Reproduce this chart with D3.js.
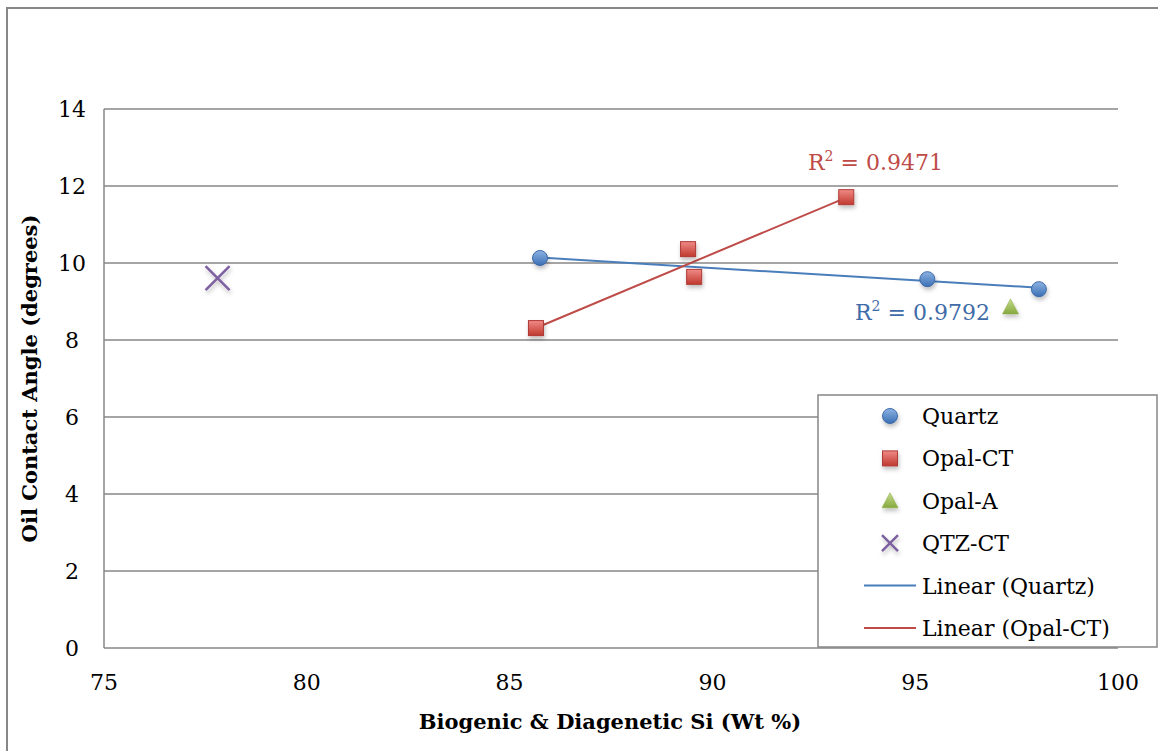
<!DOCTYPE html>
<html>
<head>
<meta charset="utf-8">
<script src="https://cdn.jsdelivr.net/npm/d3@7"></script>
<style>
  body { margin: 0; background: #fff; }
  svg { display: block; font-family: "DejaVu Serif", "Liberation Serif", serif; }
</style>
</head>
<body>
<div id="chart"></div>
<script>
// data
const quartzX = [85.75, 95.3, 98.05];
const quartzY = [10.13, 9.58, 9.32];
const opalCtX = [85.65, 89.4, 89.55, 93.3];
const opalCtY = [8.31, 10.36, 9.64, 11.71];
const opalAX = [97.35];
const opalAY = [8.86];
const qtzCtX = [77.8];
const qtzCtY = [9.61];
const xTicks = [75, 80, 85, 90, 95, 100];
const yTicks = [0, 2, 4, 6, 8, 10, 12, 14];
const legendNames = ["Quartz", "Opal-CT", "Opal-A", "QTZ-CT", "Linear (Quartz)", "Linear (Opal-CT)"];
const r2Labels = ["0.9792", "0.9471"];

const W = 1158, H = 751;
const margin = {top: 109, right: 40, bottom: 103, left: 104};
const width = W - margin.left - margin.right;
const height = H - margin.top - margin.bottom;

const svg = d3.select("#chart").append("svg")
    .attr("width", W)
    .attr("height", H);

const defs = svg.append("defs");
function grad(id, c1, c2) {
    const g = defs.append("linearGradient").attr("id", id)
        .attr("x1", 0).attr("y1", 0).attr("x2", 0).attr("y2", 1);
    g.append("stop").attr("offset", "0%").attr("stop-color", c1);
    g.append("stop").attr("offset", "100%").attr("stop-color", c2);
}
grad("gBlue", "#8db3e2", "#3a6fb5");
grad("gRed", "#f08a86", "#c0392f");
grad("gGreen", "#c3dc8a", "#86a83f");
const sh = defs.append("filter").attr("id", "shadow").attr("x", "-50%").attr("y", "-50%").attr("width", "200%").attr("height", "200%");
sh.append("feDropShadow").attr("dx", 1).attr("dy", 3).attr("stdDeviation", 2).attr("flood-color", "#000").attr("flood-opacity", 0.25);

// outer frame
svg.append("rect")
    .attr("x", 7).attr("y", 8)
    .attr("width", W + 10).attr("height", H + 10)
    .attr("fill", "none").attr("stroke", "#878787").attr("stroke-width", 2);

const g = svg.append("g").attr("transform", `translate(${margin.left},${margin.top})`);

const x = d3.scaleLinear().domain([75, 100]).range([0, width]);
const y = d3.scaleLinear().domain([0, 14]).range([height, 0]);

// gridlines
g.selectAll(".grid").data(yTicks).enter().append("line")
    .attr("x1", 0).attr("x2", width)
    .attr("y1", d => y(d)).attr("y2", d => y(d))
    .attr("stroke", "#878787").attr("stroke-width", 1.5);
g.append("line").attr("x1", 0).attr("x2", 0).attr("y1", 0).attr("y2", height)
    .attr("stroke", "#878787").attr("stroke-width", 1.5);

// tick labels
g.selectAll(".ytl").data(yTicks).enter().append("text")
    .attr("x", -32).attr("y", d => y(d) + 8)
    .attr("text-anchor", "middle").attr("font-size", 22).attr("fill", "#000")
    .text(d => d);
g.selectAll(".xtl").data(xTicks).enter().append("text")
    .attr("x", d => x(d)).attr("y", height + 42)
    .attr("text-anchor", "middle").attr("font-size", 22).attr("fill", "#000")
    .text(d => d);

// axis titles
svg.append("text")
    .attr("x", 610).attr("y", 729)
    .attr("text-anchor", "middle").attr("font-size", 21).attr("font-weight", "bold")
    .text("Biogenic & Diagenetic Si (Wt %)");
svg.append("text")
    .attr("transform", `translate(37,${margin.top + height / 2}) rotate(-90)`)
    .attr("text-anchor", "middle").attr("font-size", 21).attr("font-weight", "bold")
    .text("Oil Contact Angle (degrees)");

// linear trendlines
function fit(xs, ys) {
    const mx = d3.mean(xs), my = d3.mean(ys);
    const b = d3.sum(xs, (v, i) => (v - mx) * (ys[i] - my)) / d3.sum(xs, v => (v - mx) ** 2);
    return {a: my - b * mx, b: b};
}
function trend(xs, ys, color) {
    const f = fit(xs, ys);
    const ext = d3.extent(xs);
    g.append("line")
        .attr("x1", x(ext[0])).attr("y1", y(f.a + f.b * ext[0]))
        .attr("x2", x(ext[1])).attr("y2", y(f.a + f.b * ext[1]))
        .attr("stroke", color).attr("stroke-width", 2);
}
trend(quartzX, quartzY, "#4a7ebb");
trend(opalCtX, opalCtY, "#be4b48");

// markers
function circle(sel, cx, cy) {
    sel.append("circle").attr("cx", cx).attr("cy", cy).attr("r", 7.5)
        .attr("fill", "url(#gBlue)").attr("stroke", "#3c6aaa").attr("stroke-width", 1)
        .attr("filter", "url(#shadow)");
}
function square(sel, cx, cy) {
    sel.append("rect").attr("x", cx - 7.5).attr("y", cy - 7.5).attr("width", 15).attr("height", 15)
        .attr("fill", "url(#gRed)").attr("stroke", "#b03a36").attr("stroke-width", 1)
        .attr("filter", "url(#shadow)");
}
function tri(sel, cx, cy) {
    sel.append("path").attr("d", `M${cx},${cy - 8} L${cx + 8},${cy + 7} L${cx - 8},${cy + 7} Z`)
        .attr("fill", "url(#gGreen)").attr("stroke", "#86a83f").attr("stroke-width", 0.5)
        .attr("filter", "url(#shadow)");
}
function cross(sel, cx, cy, s) {
    sel.append("path").attr("d", `M${cx - s},${cy - s} L${cx + s},${cy + s} M${cx + s},${cy - s} L${cx - s},${cy + s}`)
        .attr("stroke", "#7d60a0").attr("stroke-width", 2.5).attr("fill", "none")
        .attr("filter", "url(#shadow)");
}
quartzX.forEach((v, i) => circle(g, x(v), y(quartzY[i])));
opalCtX.forEach((v, i) => square(g, x(v), y(opalCtY[i])));
opalAX.forEach((v, i) => tri(g, x(v), y(opalAY[i])));
qtzCtX.forEach((v, i) => cross(g, x(v), y(qtzCtY[i]), 12));

// R² labels
function r2(tx, ty, val, color) {
    const t = svg.append("text").attr("x", tx).attr("y", ty).attr("font-size", 22).attr("fill", color);
    t.append("tspan").text("R");
    t.append("tspan").attr("dy", -9).attr("font-size", 14).text("2");
    t.append("tspan").attr("dy", 9).text(" = " + val);
}
r2(855, 320, r2Labels[0], "#3f6ca8");
r2(808, 170, r2Labels[1], "#be4b48");

// legend
const lg = svg.append("g");
lg.append("rect").attr("x", 818).attr("y", 395).attr("width", 339).attr("height", 252)
    .attr("fill", "#fff").attr("stroke", "#878787").attr("stroke-width", 1.5);
const ly = d3.scalePoint().domain(legendNames).range([416, 628]);
legendNames.forEach((name, i) => {
    const yy = ly(name);
    if (i === 0) circle(lg, 890, yy);
    if (i === 1) square(lg, 890, yy);
    if (i === 2) tri(lg, 890, yy);
    if (i === 3) cross(lg, 890, yy, 8);
    if (i === 4) lg.append("line").attr("x1", 864).attr("x2", 916).attr("y1", yy).attr("y2", yy).attr("stroke", "#4a7ebb").attr("stroke-width", 2);
    if (i === 5) lg.append("line").attr("x1", 864).attr("x2", 916).attr("y1", yy).attr("y2", yy).attr("stroke", "#be4b48").attr("stroke-width", 2);
    lg.append("text").attr("x", 922).attr("y", yy + 8).attr("font-size", 22).text(name);
});
</script>
</body>
</html>
